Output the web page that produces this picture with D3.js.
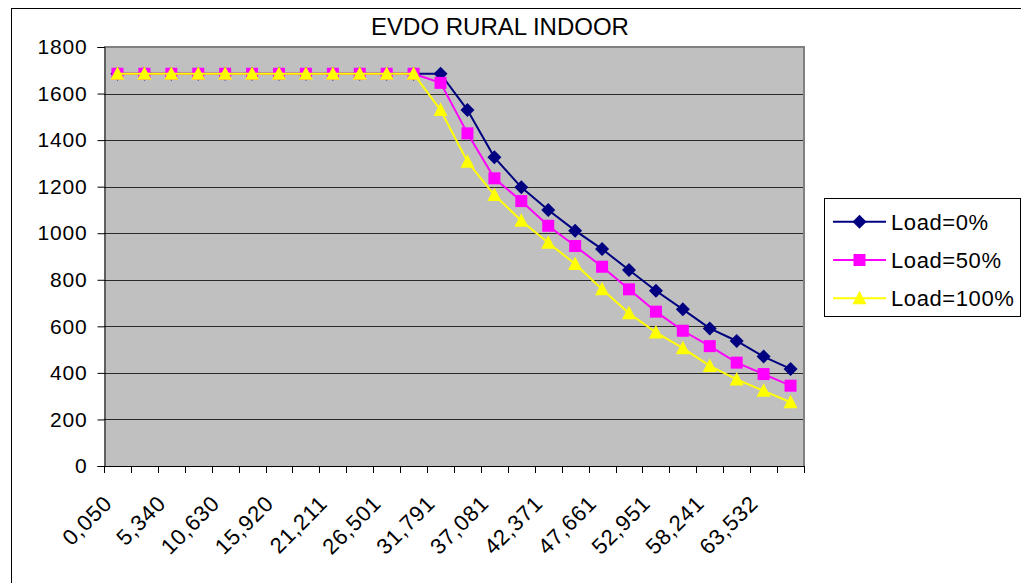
<!DOCTYPE html>
<html>
<head>
<meta charset="utf-8">
<script src="https://cdn.jsdelivr.net/npm/d3@7"></script>
<style>
  html, body { margin: 0; padding: 0; background: #fff; }
  svg { display: block; }
  text { font-family: "Liberation Sans", Arial, sans-serif; fill: #000; }
</style>
</head>
<body>
<svg id="chart" width="1021" height="583"></svg>
<script>
const title = "EVDO RURAL INDOOR";
const categories = ["0,050","2,695","5,340","7,985","10,630","13,275","15,920","18,565","21,211","23,856",
  "26,501","29,146","31,791","34,436","37,081","39,726","42,371","45,016","47,661","50,306",
  "52,951","55,596","58,241","60,887","63,532","66,177"];
const load0   = [1685,1685,1685,1685,1685,1685,1685,1685,1685,1685,1685,1685,1685,1529,1326,1197,1100,1011,932,842,753,673,591,537,470,417];
const load50  = [1685,1685,1685,1685,1685,1685,1685,1685,1685,1685,1685,1685,1646,1429,1236,1138,1032,945,856,759,663,581,515,444,395,345];
const load100 = [1685,1685,1685,1685,1685,1685,1685,1685,1685,1685,1685,1685,1529,1307,1164,1054,959,868,759,656,574,506,430,372,323,274];
const seriesNames = ["Load=0%","Load=50%","Load=100%"];
const yTicks = [0,200,400,600,800,1000,1200,1400,1600,1800];

const series = [
  {name: seriesNames[0], values: load0,   color: "#000080", marker: "diamond"},
  {name: seriesNames[1], values: load50,  color: "#FF00FF", marker: "square"},
  {name: seriesNames[2], values: load100, color: "#FFFF00", marker: "triangle"}
];

const svg = d3.select("#chart");
const plot = {left: 104, right: 804, top: 47, bottom: 466};

// outer frame
svg.append("rect").attr("x", 11.5).attr("y", 8.5).attr("width", 1030).attr("height", 600)
  .attr("fill", "#fff").attr("stroke", "#000").attr("stroke-width", 1);

const x = d3.scaleBand().domain(categories).range([plot.left, plot.right]).padding(0);
const y = d3.scaleLinear().domain([0, 1800]).range([plot.bottom, plot.top]);
const cx = c => x(c) + x.bandwidth() / 2;

// plot area
svg.append("rect").attr("x", plot.left).attr("y", plot.top)
  .attr("width", plot.right - plot.left).attr("height", plot.bottom - plot.top)
  .attr("fill", "#C0C0C0");

// gridlines
svg.append("g").selectAll("line").data(yTicks.filter(d => d > 0)).join("line")
  .attr("x1", plot.left).attr("x2", plot.right)
  .attr("y1", d => Math.round(y(d)) + 0.5).attr("y2", d => Math.round(y(d)) + 0.5)
  .attr("stroke", "#2a2a2a").attr("stroke-width", 1);

// plot border (top/right gray)
svg.append("path")
  .attr("d", `M${plot.left},${plot.top} H${plot.right} V${plot.bottom}`)
  .attr("fill", "none").attr("stroke", "#808080").attr("stroke-width", 2);

// y axis
const yAxis = d3.axisLeft(y).tickValues(yTicks).tickSize(7).tickPadding(10).tickFormat(d3.format("d"));
const gy = svg.append("g").attr("transform", `translate(${plot.left + 0.5},0)`).call(yAxis);
gy.select(".domain").attr("stroke", "#000");
gy.selectAll(".tick line").attr("stroke", "#000");
gy.selectAll(".tick text").style("font-size", "21px").style("letter-spacing", "0.8px")
  .attr("font-family", "Liberation Sans, Arial, sans-serif").attr("fill", "#000");

// x axis line
svg.append("line").attr("x1", plot.left).attr("x2", plot.right + 1)
  .attr("y1", plot.bottom + 0.5).attr("y2", plot.bottom + 0.5).attr("stroke", "#000");
// x ticks at category boundaries
const bounds = categories.map(c => x(c)).concat([x(categories[categories.length - 1]) + x.bandwidth()]);
svg.append("g").selectAll("line").data(bounds).join("line")
  .attr("x1", d => Math.round(d) + 0.5).attr("x2", d => Math.round(d) + 0.5)
  .attr("y1", plot.bottom).attr("y2", plot.bottom + 7).attr("stroke", "#000");
// x labels (every other)
svg.append("g").selectAll("text").data(categories.filter((c, i) => i % 2 === 0)).join("text")
  .attr("transform", c => `translate(${cx(c) - 15},${plot.bottom + 28}) rotate(-45)`)
  .attr("text-anchor", "end").attr("dy", "0.7em")
  .style("font-size", "22px").style("letter-spacing", "0.8px")
  .text(c => c);

// markers
function markerPath(type) {
  if (type === "diamond") return "M0,-7 L7,0 L0,7 L-7,0 Z";
  if (type === "square") return "M-6,-6 H6 V6 H-6 Z";
  return "M0,-7.5 L7,6 L-7,6 Z";
}

const line = d3.line().x((d, i) => cx(categories[i])).y(d => y(d));
series.forEach(s => {
  const g = svg.append("g");
  g.append("path").datum(s.values).attr("d", line)
    .attr("fill", "none").attr("stroke", s.color).attr("stroke-width", 2);
  g.selectAll("path.m").data(s.values).join("path").attr("class", "m")
    .attr("d", markerPath(s.marker))
    .attr("transform", (d, i) => `translate(${cx(categories[i])},${y(d)})`)
    .attr("fill", s.color);
});

// title
svg.append("text").attr("x", 500).attr("y", 35).attr("text-anchor", "middle")
  .style("font-size", "24px").text(title);

// legend
const lg = svg.append("g");
lg.append("rect").attr("x", 824.5).attr("y", 198.5).attr("width", 196).attr("height", 118)
  .attr("fill", "#fff").attr("stroke", "#000");
const rowY = [221.7, 260, 298.3];
series.forEach((s, i) => {
  lg.append("line").attr("x1", 833).attr("x2", 886).attr("y1", rowY[i]).attr("y2", rowY[i])
    .attr("stroke", s.color).attr("stroke-width", 2);
  lg.append("path").attr("d", markerPath(s.marker))
    .attr("transform", `translate(859.5,${rowY[i]})`).attr("fill", s.color);
  lg.append("text").attr("x", 891).attr("y", rowY[i]).attr("dy", "0.36em")
    .style("font-size", "22px").style("letter-spacing", "0.6px").text(s.name);
});
</script>
</body>
</html>
